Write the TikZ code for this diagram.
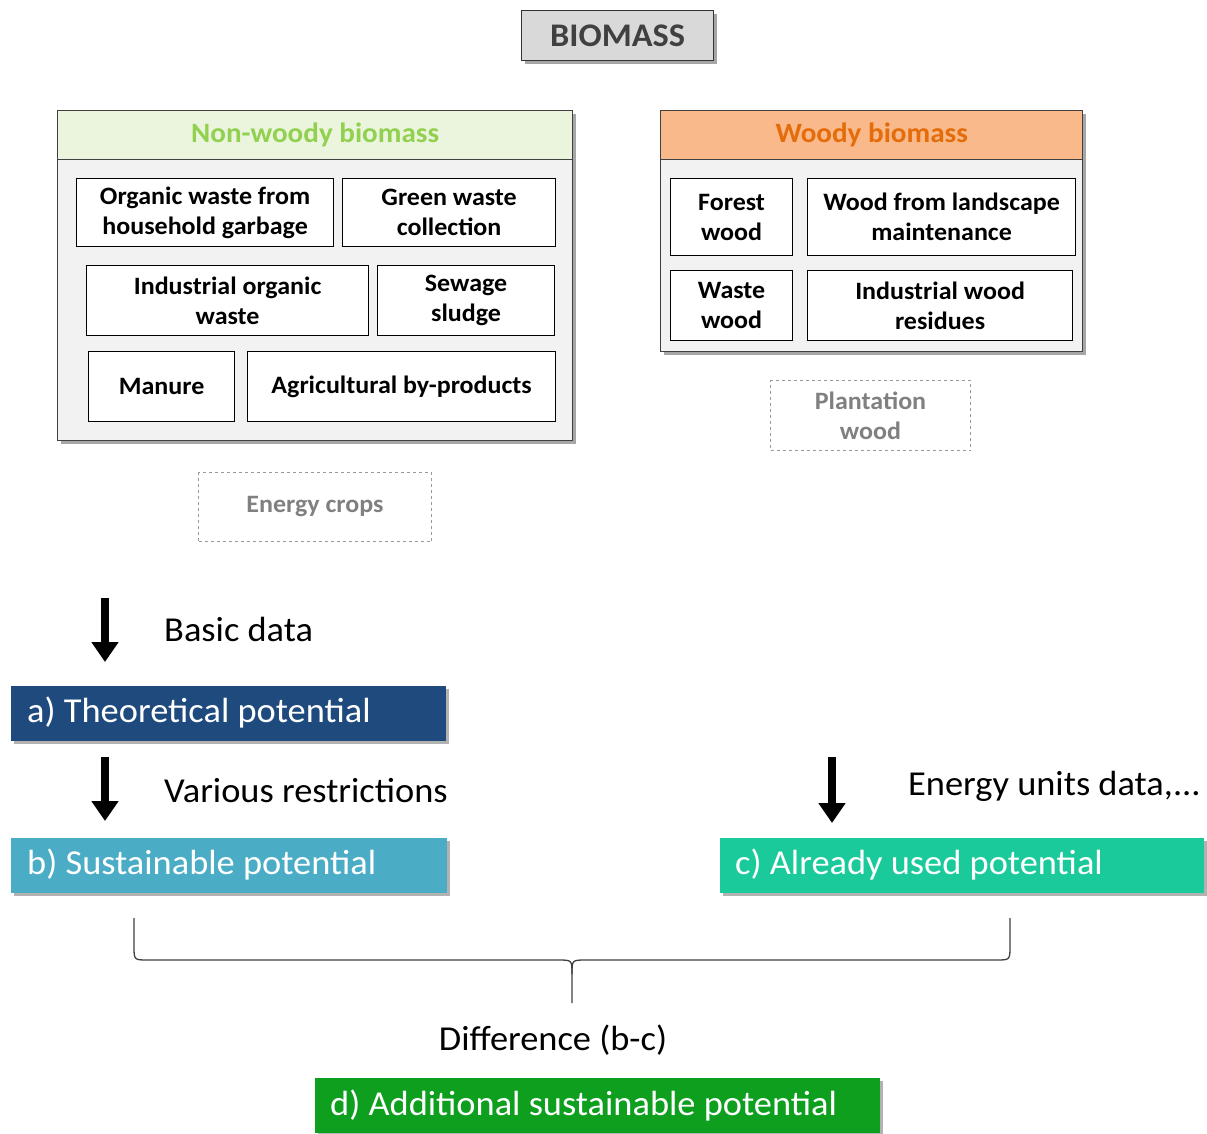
\documentclass[tikz,border=0pt]{standalone}
\usepackage{fontspec}
\setmainfont{Carlito}[FakeStretch=1.04]
\usetikzlibrary{shadows,arrows.meta}
\definecolor{hdgreen}{HTML}{EBF5DD}
\definecolor{txgreen}{HTML}{92D050}
\definecolor{hdorange}{HTML}{F9B98A}
\definecolor{txorange}{HTML}{E46C0A}
\definecolor{bodygray}{HTML}{F2F2F2}
\definecolor{potA}{HTML}{1F4A7E}
\definecolor{potB}{HTML}{4BACC6}
\definecolor{potC}{HTML}{1ACA9A}
\definecolor{potD}{HTML}{0E9F1E}
\begin{document}
\begin{tikzpicture}[x=1pt,y=-1pt,
  shad/.style={drop shadow={shadow xshift=3pt,shadow yshift=-3pt,opacity=0.35,fill=black}},
  outer/.style={draw=black!75,line width=1.3pt,fill=bodygray,anchor=north west,inner sep=0pt,shad},
  header/.style={draw=black!75,line width=1.3pt,anchor=north west,inner sep=0pt,font=\bfseries\fontsize{28}{32}\selectfont},
  item/.style={draw=black,line width=1.2pt,fill=white,align=center,anchor=north west,inner sep=0pt,font=\bfseries\fontsize{25}{30}\selectfont},
  ghost/.style={draw=gray!80,dashed,line width=1pt,align=center,anchor=north west,inner sep=0pt,text=gray,font=\bfseries\fontsize{25}{30}\selectfont},
  pot/.style={anchor=north west,inner sep=0pt,
     drop shadow={shadow xshift=3pt,shadow yshift=-3pt,opacity=0.3,fill=black}},
  pottext/.style={anchor=west,inner sep=0pt,text=white,font=\fontsize{35}{40}\selectfont},
  lbl/.style={anchor=west,inner sep=0pt,font=\fontsize{35}{40}\selectfont},
  bigarrow/.style={line width=8pt,-{Triangle[width=26pt,length=20pt]}}
]
\useasboundingbox (0,0) rectangle (1207,1133);

% title
\node[draw=black!80,line width=1.3pt,fill=black!15,anchor=north west,minimum width=192pt,minimum height=50pt,inner sep=0pt,
  text=black!75,font=\bfseries\fontsize{33}{36}\selectfont,shad] (biomass) at (521,10) {BIOMASS};

% non-woody
\node[outer,minimum width=515pt,minimum height=330pt] (nw) at (57,110) {};
\node[header,fill=hdgreen,text=txgreen,minimum width=515pt,minimum height=49pt] (nwh) at (57,110) {Non-woody biomass};
\node[item,minimum width=257pt,minimum height=68pt] (org) at (76,178) {Organic waste from\\household garbage};
\node[item,minimum width=213pt,minimum height=68pt] (green) at (342,178) {Green waste\\collection};
\node[item,minimum width=282pt,minimum height=70pt] (ind) at (86,265) {Industrial organic\\waste};
\node[item,minimum width=177pt,minimum height=70pt] (sew) at (377,265) {Sewage\\sludge};
\node[item,minimum width=146pt,minimum height=70pt] (man) at (88,351) {Manure};
\node[item,minimum width=308pt,minimum height=70pt] (agr) at (247,351) {Agricultural by-products};

% woody
\node[outer,minimum width=422pt,minimum height=241pt] (wd) at (660,110) {};
\node[header,fill=hdorange,text=txorange,minimum width=422pt,minimum height=49pt] (wdh) at (660,110) {Woody biomass};
\node[item,minimum width=122pt,minimum height=77pt] (forest) at (670,178) {Forest\\wood};
\node[item,minimum width=268pt,minimum height=77pt] (land) at (807,178) {Wood from landscape\\maintenance};
\node[item,minimum width=122pt,minimum height=70pt] (waste) at (670,270) {Waste\\wood};
\node[item,minimum width=265pt,minimum height=70pt] (indw) at (807,270) {Industrial wood\\residues};

% dashed
\node[ghost,minimum width=200pt,minimum height=70pt] (plant) at (770,380) {Plantation\\wood};
\node[ghost,minimum width=233pt,minimum height=69pt] (crops) at (198,472) {Energy crops};

% potentials
\node[pot,fill=potA,minimum width=435pt,minimum height=55pt] (pa) at (11,686) {};
\node[pottext] (pat) at (27,713) {a) Theoretical potential};
\node[pot,fill=potB,minimum width=436pt,minimum height=55pt] (pb) at (11,838) {};
\node[pottext] (pbt) at (27,865) {b) Sustainable potential};
\node[pot,fill=potC,minimum width=484pt,minimum height=55pt] (pc) at (720,838) {};
\node[pottext] (pct) at (735,865) {c) Already used potential};
\node[pot,fill=potD,minimum width=565pt,minimum height=55pt] (pd) at (315,1078) {};
\node[pottext] (pdt) at (330,1106) {d) Additional sustainable potential};

% arrows and labels
\coordinate (a1s) at (105,598);
\coordinate (a1e) at (105,662);
\draw[bigarrow] (a1s) -- (a1e);
\node[lbl] (basic) at (164,629) {Basic data};
\coordinate (a2s) at (105,757);
\coordinate (a2e) at (105,821);
\draw[bigarrow] (a2s) -- (a2e);
\node[lbl] (restr) at (164,791) {Various restrictions};
\coordinate (a3s) at (832,757);
\coordinate (a3e) at (832,823);
\draw[bigarrow] (a3s) -- (a3e);
\node[lbl] (units) at (908,786) {Energy units data,...};

% brace
\coordinate (bl) at (134,918);
\coordinate (br) at (1010,918);
\coordinate (bm) at (572,1003);
\draw[black!75,line width=1.3pt] (bl) -- (134,946) .. controls (134,960) .. (148,960) -- (558,960) .. controls (572,960) .. (572,974) -- (bm);
\draw[black!75,line width=1.3pt] (572,974) .. controls (572,960) .. (586,960) -- (996,960) .. controls (1010,960) .. (1010,946) -- (br);
\node[font=\fontsize{35}{40}\selectfont,inner sep=0pt] (diff) at (553,1040) {Difference (b-c)};
\end{tikzpicture}
\end{document}
